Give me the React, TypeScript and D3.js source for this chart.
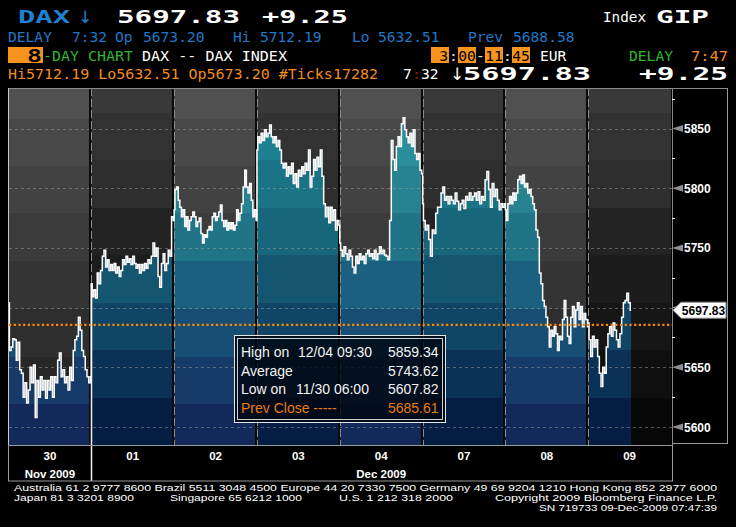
import React from 'react';
import * as d3 from 'd3';

// ---------- data ----------
const dayLabels = ['30', '01', '02', '03', '04', '07', '08', '09'];
const monthNames = ['Nov 2009', 'Dec 2009'];
const monthStartDay = [0, 1];
const sessionLength = 525; // 3:00 - 11:45
const lastSessionMinutes = 272; // 3:00 - 7:32

const day30 = [5704, 5664, 5667, 5674, 5673, 5656, 5671, 5648, 5645, 5625, 5637, 5620, 5631, 5650, 5637, 5652, 5608, 5639, 5625, 5642, 5631, 5639, 5624, 5639, 5631, 5642, 5625, 5642, 5637, 5656, 5662, 5642, 5648, 5637, 5642, 5631, 5650, 5639, 5664, 5673, 5676, 5692, 5681, 5664, 5659, 5648, 5642, 5637, 5642];
const day01 = [5720, 5709, 5715, 5708, 5729, 5720, 5731, 5743, 5748, 5734, 5740, 5731, 5736, 5731, 5737, 5729, 5734, 5726, 5731, 5740, 5736, 5743, 5738, 5741, 5736, 5743, 5737, 5733, 5736, 5729, 5736, 5731, 5737, 5733, 5740, 5737, 5743, 5754, 5743, 5750, 5726, 5717, 5737, 5745, 5731, 5737, 5748, 5743, 5776, 5773];
const day02 = [5782, 5799, 5801, 5790, 5784, 5776, 5782, 5768, 5776, 5765, 5773, 5776, 5780, 5776, 5768, 5772, 5775, 5762, 5754, 5761, 5759, 5765, 5768, 5765, 5776, 5779, 5773, 5776, 5780, 5786, 5773, 5768, 5773, 5765, 5771, 5766, 5771, 5765, 5769, 5782, 5773, 5779, 5787, 5801, 5815, 5801, 5796, 5804, 5790, 5776, 5782, 5773];
const day03 = [5832, 5843, 5838, 5846, 5840, 5849, 5843, 5846, 5853, 5843, 5838, 5843, 5835, 5840, 5832, 5821, 5817, 5821, 5810, 5818, 5812, 5821, 5804, 5812, 5801, 5815, 5810, 5818, 5812, 5821, 5815, 5832, 5801, 5810, 5824, 5815, 5826, 5818, 5832, 5810, 5787, 5776, 5784, 5771, 5784, 5773, 5782, 5765, 5773, 5769];
const day04 = [5754, 5748, 5743, 5751, 5745, 5740, 5748, 5743, 5734, 5729, 5743, 5737, 5745, 5740, 5743, 5737, 5745, 5748, 5743, 5745, 5741, 5748, 5740, 5745, 5751, 5745, 5748, 5744, 5743, 5740, 5773, 5840, 5824, 5815, 5835, 5843, 5835, 5854, 5859, 5849, 5843, 5838, 5846, 5835, 5849, 5829, 5824, 5829, 5815, 5812];
const day07 = [5787, 5773, 5765, 5769, 5757, 5743, 5765, 5762, 5779, 5784, 5784, 5796, 5801, 5790, 5793, 5787, 5793, 5790, 5787, 5796, 5789, 5782, 5787, 5790, 5783, 5793, 5790, 5796, 5790, 5793, 5796, 5790, 5797, 5787, 5793, 5790, 5807, 5814, 5799, 5784, 5804, 5793, 5799, 5790, 5782, 5787, 5784, 5787];
const day08 = [5782, 5773, 5787, 5793, 5787, 5796, 5790, 5796, 5807, 5810, 5804, 5811, 5801, 5804, 5796, 5799, 5793, 5787, 5782, 5765, 5759, 5729, 5720, 5706, 5701, 5692, 5684, 5667, 5681, 5676, 5684, 5678, 5664, 5676, 5673, 5690, 5706, 5692, 5676, 5670, 5692, 5701, 5684, 5698, 5704, 5690, 5701, 5684, 5695, 5690, 5684];
const day09 = [5687, 5673, 5659, 5676, 5667, 5673, 5659, 5645, 5634, 5650, 5645, 5667, 5678, 5684, 5676, 5687, 5681, 5673, 5667, 5678, 5692, 5704, 5706, 5712, 5704, 5697.83];
const dayValues = [day30, day01, day02, day03, day04, day07, day08, day09];

const yTicks = [5600, 5650, 5700, 5750, 5800, 5850];
const yMinorTicks = [5625, 5675, 5725, 5775, 5825, 5875];
const prevClose = 5685.61;
const lastPrice = 5697.83;

const statLabels = ['High on', 'Average', 'Low on', 'Prev Close -----'];
const statWhen = ['12/04 09:30', '', '11/30 06:00', ''];
const statValues = ['5859.34', '5743.62', '5607.82', '5685.61'];

// ---------- styles ----------
const lightBounds = [88, 119, 166, 213, 261, 309, 357, 404, 445];
const darkBounds = [88, 113, 160, 208, 255, 303, 350, 398, 445];
const lightBg = ['#505050', '#484848', '#424242', '#3b3b3b', '#343434', '#2e2e2e', '#272727', '#202020'];
const darkBg = ['#393939', '#323232', '#2e2e2e', '#232323', '#1c1c1c', '#161616', '#0f0f0f', '#080808'];
const lightFill = ['#2f98a4', '#2b8e9d', '#278291', '#217388', '#1c607f', '#194e74', '#163b69', '#12295a'];
const darkFill = ['#248a9a', '#1f8091', '#1b7486', '#17667b', '#145670', '#104566', '#0b3256', '#061d44'];

const MONO = '"DejaVu Sans Mono", "Liberation Mono", monospace';
const SANS = '"Liberation Sans", Arial, sans-serif';
const ARROWFONT = '"DejaVu Sans", sans-serif';

function bandStops(bounds: number[], colors: string[], top: number, bottom: number) {
  const h = bottom - top;
  const stops: JSX.Element[] = [];
  colors.forEach((c, i) => {
    stops.push(<stop key={'a' + i} offset={(bounds[i] - top) / h} stopColor={c} />);
    stops.push(<stop key={'b' + i} offset={(bounds[i + 1] - top) / h} stopColor={c} />);
  });
  return stops;
}

export default function App() {
  const plotTop = 88;
  const plotBottom = 445;
  const axisX = 672;
  const x = d3.scaleLinear().domain([0, dayLabels.length * sessionLength]).range([8.5, 671]);
  const y = d3.scaleLinear().domain([5600, 5850]).range([427, 128.5]);

  const days = dayValues.map((vals, d) => {
    const span = d === dayValues.length - 1 ? lastSessionMinutes : sessionLength;
    return vals.map((v, i) => ({ t: d * sessionLength + (i * span) / (vals.length - 1), v }));
  });
  const allPts = days.flat();
  const line = d3.line<any>().x((p) => x(p.t)).y((p) => y(p.v)).curve(d3.curveStep);
  const area = d3.area<any>().x((p) => x(p.t)).y0(plotBottom).y1((p) => y(p.v)).curve(d3.curveStep);

  const isLight = (d: number) => d % 2 === 0;
  const lastY = y(lastPrice);

  return (
    <svg width={736} height={527} style={{ position: 'absolute', left: 0, top: 0, display: 'block' }}>
      <defs>
        <linearGradient id="fillLight" gradientUnits="userSpaceOnUse" x1={0} y1={plotTop} x2={0} y2={plotBottom}>
          {bandStops(lightBounds, lightFill, plotTop, plotBottom)}
        </linearGradient>
        <linearGradient id="fillDark" gradientUnits="userSpaceOnUse" x1={0} y1={plotTop} x2={0} y2={plotBottom}>
          {bandStops(darkBounds, darkFill, plotTop, plotBottom)}
        </linearGradient>
      </defs>
      <rect x={0} y={0} width={736} height={527} fill="#000" />

      {/* background bands per day */}
      {dayLabels.map((_, d) => {
        const x0 = x(d * sessionLength);
        const x1 = x((d + 1) * sessionLength);
        const bounds = isLight(d) ? lightBounds : darkBounds;
        const cols = isLight(d) ? lightBg : darkBg;
        return cols.map((c, i) => (
          <rect key={d + '-' + i} x={x0} y={bounds[i]} width={x1 - x0} height={bounds[i + 1] - bounds[i]} fill={c} />
        ));
      })}

      {/* area fills */}
      {days.map((pts, d) => (
        <path key={'area' + d} d={area(pts) || ''} fill={isLight(d) ? 'url(#fillLight)' : 'url(#fillDark)'} />
      ))}

      {/* gridlines */}
      {yTicks.map((t) => (
        <line key={'g' + t} x1={9} x2={axisX} y1={Math.round(y(t)) + 0.5} y2={Math.round(y(t)) + 0.5}
          stroke="#a0a0a0" strokeOpacity={0.5} strokeDasharray="3 3" />
      ))}

      {/* day separators */}
      {dayLabels.slice(1).map((_, i) => {
        const xs = Math.round(x((i + 1) * sessionLength));
        return (
          <g key={'sep' + i}>
            <line x1={xs - 1} x2={xs - 1} y1={plotTop} y2={plotBottom} stroke="#0a0a0a" strokeWidth={2} />
            <line x1={xs + 0.5} x2={xs + 0.5} y1={plotTop} y2={plotBottom} stroke="#8c8c8c" strokeDasharray="8 3" />
          </g>
        );
      })}

      {/* month boundary */}
      {monthStartDay.slice(1).map((d) => {
        const xs = Math.round(x(d * sessionLength)) + 0.5;
        return <line key={'m' + d} x1={xs} x2={xs} y1={y(dayValues[d][0])} y2={481} stroke="#f0f0f0" strokeWidth={1.5} />;
      })}

      {/* price line */}
      <path d={line(allPts) || ''} fill="none" stroke="#ffffff" strokeWidth={1.5} />

      {/* previous close */}
      <line x1={9} x2={axisX} y1={y(prevClose)} y2={y(prevClose)} stroke="#ff8a00" strokeWidth={2.2} strokeDasharray="2.2 2.5" />

      {/* plot frame */}
      <line x1={8} x2={728} y1={88.5} y2={88.5} stroke="#8a8a8a" />
      <line x1={8.5} x2={8.5} y1={88} y2={481} stroke="#c8c8c8" />
      <line x1={8} x2={axisX} y1={445.5} y2={445.5} stroke="#8a8a8a" />
      <line x1={axisX + 0.5} x2={axisX + 0.5} y1={88} y2={481} stroke="#8a8a8a" />
      <line x1={727.5} x2={727.5} y1={88} y2={444} stroke="#9a9a9a" />
      <line x1={axisX} x2={728} y1={443.5} y2={443.5} stroke="#9a9a9a" />

      {/* right axis */}
      {yMinorTicks.map((t) => (
        <line key={'mt' + t} x1={axisX} x2={axisX + 3} y1={Math.round(y(t)) + 0.5} y2={Math.round(y(t)) + 0.5} stroke="#ffffff" />
      ))}
      {yTicks.map((t) => {
        const yy = y(t);
        const hidden = Math.abs(t - lastPrice) < 10;
        return (
          <g key={'yl' + t}>
            <path d={`M${axisX},${yy} L${axisX + 11},${yy - 3.5} L${axisX + 11},${yy + 3.5} Z`} fill="#8f8f8f" />
            {!hidden && (
              <text x={684} y={yy + 4.5} fill="#ffffff" fontFamily={SANS} fontWeight="bold" fontSize={12}>{t}</text>
            )}
          </g>
        );
      })}
      {/* last price tag */}
      <path d={`M${axisX + 1},${lastY} L681,${lastY - 8} L726,${lastY - 8} L726,${lastY + 8} L681,${lastY + 8} Z`} fill="#ffffff" stroke="#8a8a8a" />
      <text x={703.5} y={lastY + 5} textAnchor="middle" fill="#000" fontFamily={SANS} fontWeight="bold" fontSize={12}>{lastPrice.toFixed(2)}</text>

      {/* stats box */}
      <rect x={234.5} y={335.5} width={211} height={87} fill="rgba(0,6,16,0.82)" stroke="#e6e6e6" />
      <rect x={237.5} y={338.5} width={205} height={81} fill="none" stroke="#d0d0d0" />
      {statLabels.map((lab, i) => {
        const by = [357, 375.5, 394, 412.5][i];
        const col = i === 3 ? '#e87c10' : '#f2f2f2';
        return (
          <g key={'st' + i} fontFamily={SANS} fontSize={14} fill={col}>
            <text x={241} y={by}>{lab}</text>
            {statWhen[i] && <text x={i === 0 ? 298 : 296} y={by}>{statWhen[i]}</text>}
            <text x={438.5} y={by} textAnchor="end">{statValues[i]}</text>
          </g>
        );
      })}

      {/* bottom axis */}
      <rect x={8.5} y={445.5} width={axisX - 8} height={35.5} fill="none" stroke="#9a9a9a" />
      {dayLabels.map((lab, d) => (
        <text key={'dl' + d} x={x((d + 0.5) * sessionLength)} y={459.5} textAnchor="middle" fill="#fff"
          fontFamily={SANS} fontWeight="bold" fontSize={11.5}>{lab}</text>
      ))}
      {monthNames.map((m, i) => {
        const from = monthStartDay[i];
        const to = i + 1 < monthStartDay.length ? monthStartDay[i + 1] : dayLabels.length;
        const cx = (x(from * sessionLength) + x(to * sessionLength)) / 2;
        return (
          <text key={'mn' + i} x={cx} y={477.5} textAnchor="middle" fill="#fff" fontFamily={SANS} fontWeight="bold" fontSize={11.5}>{m}</text>
        );
      })}

      {/* header line 1 */}
      <text y={22.7} fill="#1f80d2" fontFamily={MONO} fontWeight="bold" fontSize={17}>
        <tspan x={18} textLength={52} lengthAdjust="spacingAndGlyphs">DAX</tspan>
        <tspan x={78} fontFamily={ARROWFONT} fontWeight="normal" fontSize={17}>↓</tspan>
      </text>
      <g fontFamily={MONO} fontWeight="bold" fontSize={17}>
        <text x={117} y={22.7} fill="#fff" textLength={123} lengthAdjust="spacingAndGlyphs">5697.83</text>
        <text x={262} y={22.7} fill="#fff" textLength={86} lengthAdjust="spacingAndGlyphs">+9.25</text>
        <text x={656} y={22.7} fill="#fff" textLength={53} lengthAdjust="spacingAndGlyphs">GIP</text>
      </g>
      <text x={603} y={22} fill="#fff" fontFamily={MONO} fontSize={14.6} textLength={43} lengthAdjust="spacingAndGlyphs">Index</text>

      {/* header line 2 */}
      <g fontFamily={MONO} fontSize={14.6} fill="#1f78c8">
        <text x={8} y={41.5}>DELAY</text>
        <text x={72} y={41.5}>7:32</text>
        <text x={115} y={41.5}>Op</text>
        <text x={143} y={41.5}>5673.20</text>
        <text x={233} y={41.5}>Hi</text>
        <text x={260} y={41.5}>5712.19</text>
        <text x={352} y={41.5}>Lo</text>
        <text x={378} y={41.5}>5632.51</text>
        <text x={468} y={41.5}>Prev</text>
        <text x={513} y={41.5}>5688.58</text>
      </g>

      {/* header line 3 */}
      <rect x={8} y={47} width={35} height={16} fill="#f7931e" />
      <text x={27} y={62} fill="#000" fontFamily={MONO} fontSize={17} fontWeight="bold" textLength={15} lengthAdjust="spacingAndGlyphs">8</text>
      <g fontFamily={MONO} fontSize={14.6}>
        <text x={43} y={61} fill="#2eb52e" textLength={90} lengthAdjust="spacingAndGlyphs">-DAY CHART</text>
        <text x={142} y={61} fill="#fff" textLength={145} lengthAdjust="spacingAndGlyphs">DAX -- DAX INDEX</text>
        <rect x={431} y={47} width={18} height={16} fill="#f7931e" />
        <text x={448} y={61} fill="#000" textAnchor="end">3</text>
        <text x={453.5} y={61} fill="#e0e0e0" textAnchor="middle">:</text>
        <rect x={458} y={47} width={18} height={16} fill="#f7931e" />
        <text x={467} y={61} fill="#000" textAnchor="middle">00</text>
        <text x={480.5} y={61} fill="#e0e0e0" textAnchor="middle">-</text>
        <rect x={485} y={47} width={18} height={16} fill="#f7931e" />
        <text x={494} y={61} fill="#000" textAnchor="middle">11</text>
        <text x={507.5} y={61} fill="#e0e0e0" textAnchor="middle">:</text>
        <rect x={512} y={47} width={18} height={16} fill="#f7931e" />
        <text x={521} y={61} fill="#000" textAnchor="middle">45</text>
        <text x={540} y={61} fill="#fff">EUR</text>
        <text x={629} y={61} fill="#2eb52e" textLength={44} lengthAdjust="spacingAndGlyphs">DELAY</text>
        <text x={691} y={61} fill="#f28c1e" textLength={37} lengthAdjust="spacingAndGlyphs">7:47</text>
      </g>

      {/* header line 4 */}
      <g fontFamily={MONO} fontSize={14.6}>
        <text x={8} y={78.5} fill="#f28c1e" textLength={370} lengthAdjust="spacingAndGlyphs">Hi5712.19 Lo5632.51 Op5673.20 #Ticks17282</text>
        <text x={403} y={78.5} fill="#fff">7</text>
        <text x={412} y={78.5} fill="#8b1a1a">:</text>
        <text x={421} y={78.5} fill="#fff">32</text>
      </g>
      <text y={80} fill="#fff" fontFamily={MONO} fontWeight="bold" fontSize={17}>
        <tspan x={450} fontFamily={ARROWFONT} fontWeight="normal" fontSize={17}>↓</tspan>
        <tspan x={463} textLength={128} lengthAdjust="spacingAndGlyphs">5697.83</tspan>
      </text>
      <text x={639} y={80} fill="#fff" fontFamily={MONO} fontWeight="bold" fontSize={17} textLength={89} lengthAdjust="spacingAndGlyphs">+9.25</text>

      {/* footer */}
      <g fontFamily={SANS} fontSize={9.5} fill="#fff">
        <text x={14} y={491} textLength={703} lengthAdjust="spacingAndGlyphs">Australia 61 2 9777 8600 Brazil 5511 3048 4500 Europe 44 20 7330 7500 Germany 49 69 9204 1210 Hong Kong 852 2977 6000</text>
        <text x={14} y={501} textLength={120} lengthAdjust="spacingAndGlyphs">Japan 81 3 3201 8900</text>
        <text x={170} y={501} textLength={132} lengthAdjust="spacingAndGlyphs">Singapore 65 6212 1000</text>
        <text x={339} y={501} textLength={114} lengthAdjust="spacingAndGlyphs">U.S. 1 212 318 2000</text>
        <text x={495} y={501} textLength={222} lengthAdjust="spacingAndGlyphs">Copyright 2009 Bloomberg Finance L.P.</text>
        <text x={539} y={511} textLength={178} lengthAdjust="spacingAndGlyphs">SN 719733 09-Dec-2009 07:47:39</text>
      </g>
    </svg>
  );
}
